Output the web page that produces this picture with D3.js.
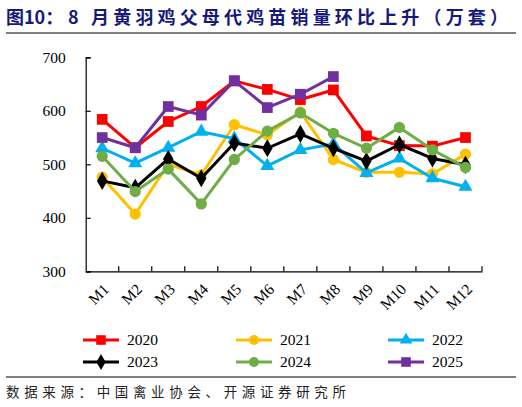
<!DOCTYPE html>
<html lang="zh">
<head>
<meta charset="UTF-8">
<title>8月黄羽鸡父母代鸡苗销量环比上升</title>
<script src="https://d3js.org/d3.v7.min.js"></script>
<style>
  body { margin: 0; background: #fff; }
  svg { display: block; }
</style>
</head>
<body>
<svg id="chart" width="522" height="407"></svg>
<script>
// data (万套)
const months = ["M1","M2","M3","M4","M5","M6","M7","M8","M9","M10","M11","M12"];
const years = ["2020","2021","2022","2023","2024","2025"];
const v2020 = [584, 531, 580, 608, 656, 640, 621, 639, 553, 535, 534, 550];
const v2021 = [476, 407, 500, 480, 574, 555, 598, 509, 485, 485, 482, 519];
const v2022 = [530, 502, 531, 561, 548, 497, 527, 538, 484, 511, 474, 458];
const v2023 = [469, 456, 510, 474, 540, 530, 557, 530, 506, 537, 511, 499];
const v2024 = [515, 449, 491, 426, 509, 562, 596, 558, 530, 569, 527, 494];
const v2025 = [550, 531, 608, 592, 656, 606, 631, 664];
const yTicks = [300, 400, 500, 600, 700];

const seriesList = [
  { name: "2020", values: v2020, color: "#FF0000", shape: "square" },
  { name: "2021", values: v2021, color: "#FFC000", shape: "circle" },
  { name: "2022", values: v2022, color: "#00B0F0", shape: "triangle" },
  { name: "2023", values: v2023, color: "#000000", shape: "diamond" },
  { name: "2024", values: v2024, color: "#70AD47", shape: "circle" },
  { name: "2025", values: v2025, color: "#7030A0", shape: "square" }
];

const svg = d3.select("#chart");
const serif = "'Liberation Serif', 'Times New Roman', serif";
const cjk = "'Noto Sans CJK SC', sans-serif";

// title (prefix kept tight, rest spread like the original)
svg.append("text")
  .attr("x", 6).attr("y", 24)
  .attr("font-family", cjk).attr("font-weight", "bold")
  .attr("font-size", 18).attr("fill", "#14197a")
  .text("图10：");
svg.append("text")
  .attr("x", 68).attr("y", 24)
  .attr("font-family", cjk).attr("font-weight", "bold")
  .attr("font-size", 18).attr("fill", "#14197a")
  .attr("textLength", 440).attr("lengthAdjust", "spacing")
  .text("8 月黄羽鸡父母代鸡苗销量环比上升（万套）");
svg.append("line").attr("x1", 6).attr("x2", 516).attr("y1", 33).attr("y2", 33)
  .attr("stroke", "#000").attr("stroke-width", 1.2);

const plotL = 85.7, plotR = 482, plotT = 57.3, plotB = 271.3;

const x = d3.scaleBand().domain(months).range([plotL, plotR]);
const y = d3.scaleLinear().domain([300, 700]).range([plotB, plotT]);

// y axis (ticks pointing inward)
const yAxis = svg.append("g")
  .attr("transform", `translate(${plotL},0)`)
  .call(d3.axisLeft(y).tickValues(yTicks).tickSize(-5).tickPadding(20));
yAxis.select(".domain").attr("stroke", "#000").attr("stroke-width", 1.2);
yAxis.selectAll(".tick line").attr("stroke", "#000").attr("stroke-width", 1.2);
yAxis.selectAll("text").attr("font-family", serif).attr("font-size", 15.5).attr("fill", "#000");

// x axis
const xAxis = svg.append("g")
  .attr("transform", `translate(0,${plotB})`)
  .call(d3.axisBottom(x).tickSize(0).tickSizeOuter(0));
xAxis.select(".domain").attr("stroke", "#000").attr("stroke-width", 1.2);
xAxis.selectAll(".tick text")
  .attr("font-family", serif).attr("font-size", 15.5).attr("fill", "#000")
  .attr("text-anchor", "end")
  .attr("transform", "translate(4,15) rotate(-45)")
  .attr("dy", "0.35em").attr("y", 0).attr("x", 0);
// tick marks at band boundaries, pointing up
const bounds = months.map(m => x(m)).concat([plotR]).slice(1);
svg.append("g").selectAll("line").data(bounds).join("line")
  .attr("x1", d => d).attr("x2", d => d)
  .attr("y1", plotB).attr("y2", plotB - 5)
  .attr("stroke", "#000").attr("stroke-width", 1.2);

const cx = i => x(months[i]) + x.bandwidth() / 2;

const symType = { square: d3.symbolSquare, circle: d3.symbolCircle, triangle: d3.symbolTriangle, diamond: d3.symbolDiamond };
const symSize = { square: 115, circle: 100, triangle: 85, diamond: 95 };

const line = d3.line().x((d, i) => cx(i)).y(d => y(d));

seriesList.forEach(s => {
  const g = svg.append("g");
  g.append("path").datum(s.values)
    .attr("d", line).attr("fill", "none")
    .attr("stroke", s.color).attr("stroke-width", 3)
    .attr("stroke-linejoin", "round");
  g.selectAll("path.pt").data(s.values).join("path")
    .attr("class", "pt")
    .attr("transform", (d, i) => `translate(${cx(i)},${y(d)})`)
    .attr("d", d3.symbol(symType[s.shape], symSize[s.shape])())
    .attr("fill", s.color);
});

// legend
const legendCols = [83, 236, 388];
const legendRows = [340, 362];
seriesList.forEach((s, i) => {
  const lx = legendCols[i % 3], ly = legendRows[Math.floor(i / 3)];
  const g = svg.append("g").attr("transform", `translate(${lx},${ly})`);
  g.append("line").attr("x1", 0).attr("x2", 36).attr("y1", 0).attr("y2", 0)
    .attr("stroke", s.color).attr("stroke-width", 3);
  g.append("path").attr("transform", "translate(18,0)")
    .attr("d", d3.symbol(symType[s.shape], symSize[s.shape] * 0.8)()).attr("fill", s.color);
  g.append("text").attr("x", 44).attr("y", 0).attr("dy", "0.35em")
    .attr("font-family", serif).attr("font-size", 15.5).attr("fill", "#000")
    .text(s.name);
});

// footer
svg.append("line").attr("x1", 6).attr("x2", 516).attr("y1", 377).attr("y2", 377)
  .attr("stroke", "#000").attr("stroke-width", 1);
svg.append("text")
  .attr("x", 6).attr("y", 397)
  .attr("font-family", cjk).attr("font-size", 13.5).attr("fill", "#222")
  .attr("textLength", 340).attr("lengthAdjust", "spacing")
  .text("数据来源：中国禽业协会、开源证券研究所");
</script>
</body>
</html>
